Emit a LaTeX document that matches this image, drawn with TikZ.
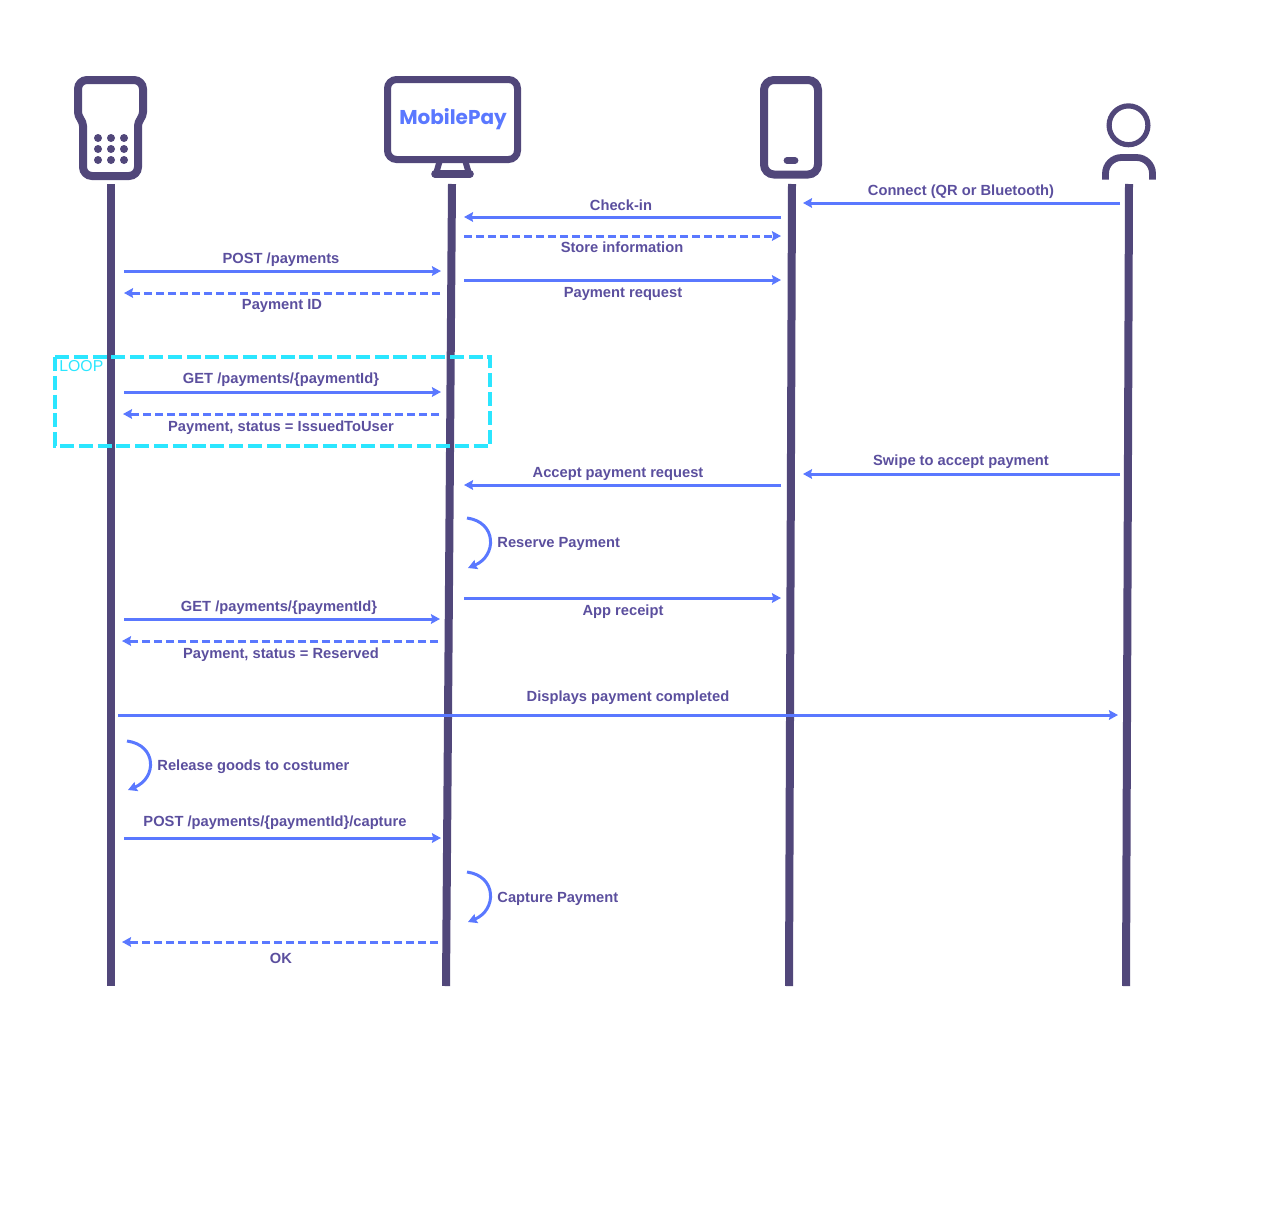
\documentclass[tikz,border=0pt]{standalone}
\usepackage{fontspec}
\setmainfont{Liberation Sans}
\newfontfamily\logofont{Poppins}
\usetikzlibrary{arrows.meta}
\definecolor{lifecol}{HTML}{51477A}
\definecolor{textcol}{HTML}{5B4F9E}
\definecolor{msgcol}{HTML}{5A78FF}
\definecolor{loopcol}{HTML}{2BE6FF}
\tikzset{
  msgline/.style={draw=msgcol, line width=1.5pt, -{Stealth[length=4.5pt,width=4.8pt,inset=0.6pt]}},
  msgdash/.style={msgline, dash pattern=on 4pt off 2pt},
  lifeline/.style={draw=lifecol, line width=4pt},
  icon/.style={draw=lifecol, line width=4pt, rounded corners=4.5pt},
  lbl/.style={text=textcol, font=\fontsize{7.35}{9}\selectfont\bfseries, inner sep=0pt, text height=5pt, text depth=0pt}
}
\begin{document}
\begin{tikzpicture}[x=0.5pt,y=-0.5pt]
        \useasboundingbox (0,0) rectangle (1280,1210);
        % lifelines
        \coordinate (termtop) at (111,184); \coordinate (termend) at (111,986);
        \coordinate (paytop) at (452,184); \coordinate (payend) at (446,986);
        \coordinate (phonetop) at (792,184); \coordinate (phoneend) at (789,986);
        \coordinate (usertop) at (1129,184); \coordinate (userend) at (1126,986);
        \draw[lifeline] (termtop) -- (termend); \draw[lifeline] (paytop) -- (payend);
        \draw[lifeline] (phonetop) -- (phoneend); \draw[lifeline] (usertop) -- (userend);
        % icons
        \draw[icon] (110,80) -- (143,80) [rounded corners=2pt] -- (143,116) -- (138,122) [rounded corners=4.5pt] -- (138,176) -- (83,176) [rounded corners=2pt] -- (83,122) -- (78,116) [rounded corners=4.5pt] -- (78,80) -- cycle;
        \foreach \xx in {98,111,124} \foreach \yy in {138,149,160} \fill[lifecol] (\xx,\yy) circle (2pt);
        \draw[icon, line width=3.5pt] (387.5,79.5) rectangle (517.5,159.5);
        \draw[lifecol, line width=3pt] (440,160) -- (436.5,172); \draw[lifecol, line width=3pt] (465,160) -- (468.5,172);
        \draw[lifecol, line width=3.8pt, line cap=round] (435,174) -- (470,174);
        \node[text=msgcol, font=\fontsize{10}{12}\logofont\bfseries, inner sep=0pt] (logo) at (453,119) {MobilePay};
        \draw[icon, rounded corners=5pt] (764,80) rectangle (818,174.5);
        \draw[lifecol, line width=3.4pt, line cap=round] (787,160.5) -- (795,160.5);
        \draw[lifecol, line width=2.6pt] (1128.5,125.3) circle (9.7pt);
        \draw[lifecol, line width=3.4pt, rounded corners=8pt] (1105.5,179.5) -- (1105.5,157.5) -- (1152.5,157.5) -- (1152.5,179.5);
        % loop box
        \coordinate (loopa) at (55,357); \coordinate (loopb) at (490,446);
        \draw[loopcol, line width=2pt, dash pattern=on 7pt off 2.4pt] (loopa) rectangle (loopb);
        \node[text=loopcol, font=\fontsize{7.9}{9}\selectfont, anchor=west, inner sep=0pt] (looplbl) at (59,366) {LOOP};
        % messages
        \coordinate (cona) at (1120,203); \coordinate (conb) at (803,203); \draw[msgline] (cona) -- (conb);
        \coordinate (chka) at (781,217); \coordinate (chkb) at (464,217); \draw[msgline] (chka) -- (chkb);
        \coordinate (stoa) at (464,236); \coordinate (stob) at (781,236); \draw[msgdash] (stoa) -- (stob);
        \coordinate (posa) at (124,271); \coordinate (posb) at (441,271); \draw[msgline] (posa) -- (posb);
        \coordinate (reqa) at (464,280); \coordinate (reqb) at (781,280); \draw[msgline] (reqa) -- (reqb);
        \coordinate (pida) at (440,293); \coordinate (pidb) at (124,293); \draw[msgdash] (pida) -- (pidb);
        \coordinate (geta) at (124,392); \coordinate (getb) at (441,392); \draw[msgline] (geta) -- (getb);
        \coordinate (issa) at (439,414); \coordinate (issb) at (123,414); \draw[msgdash] (issa) -- (issb);
        \coordinate (swia) at (1120,474); \coordinate (swib) at (803,474); \draw[msgline] (swia) -- (swib);
        \coordinate (acca) at (781,485); \coordinate (accb) at (464,485); \draw[msgline] (acca) -- (accb);
        \coordinate (appa) at (464,598); \coordinate (appb) at (781,598); \draw[msgline] (appa) -- (appb);
        \coordinate (gtba) at (124,619); \coordinate (gtbb) at (440,619); \draw[msgline] (gtba) -- (gtbb);
        \coordinate (resa) at (438,641); \coordinate (resb) at (122,641); \draw[msgdash] (resa) -- (resb);
        \coordinate (disa) at (118,715); \coordinate (disb) at (1118,715); \draw[msgline] (disa) -- (disb);
        \coordinate (capa) at (124,838); \coordinate (capb) at (441,838); \draw[msgline] (capa) -- (capb);
        \coordinate (oka) at (438,942); \coordinate (okb) at (122,942); \draw[msgdash] (oka) -- (okb);
        % self calls
        \coordinate (rsva) at (467,518); \coordinate (rsvb) at (468,568); \draw[msgline] (rsva) .. controls +(30,4) and +(29,-12) .. (rsvb);
        \coordinate (rela) at (127,741); \coordinate (relb) at (128,790); \draw[msgline] (rela) .. controls +(30,4) and +(29,-12) .. (relb);
        \coordinate (cpta) at (467,872); \coordinate (cptb) at (468,922); \draw[msgline] (cpta) .. controls +(30,4) and +(29,-12) .. (cptb);
        % labels
        \node[lbl] (conlbl) at (961,190) {Connect (QR or Bluetooth)};
        \node[lbl] (chklbl) at (621,205) {Check-in};
        \node[lbl] (stolbl) at (622,247) {Store information};
        \node[lbl] (poslbl) at (281,258) {POST /payments};
        \node[lbl] (reqlbl) at (623,292) {Payment request};
        \node[lbl] (pidlbl) at (282,304) {Payment ID};
        \node[lbl] (getlbl) at (281,378) {GET /payments/\{paymentId\}};
        \node[lbl] (isslbl) at (281,426) {Payment, status = IssuedToUser};
        \node[lbl] (swilbl) at (961,460) {Swipe to accept payment};
        \node[lbl] (acclbl) at (618,472) {Accept payment request};
        \node[lbl, anchor=west] (rsvlbl) at (497,542) {Reserve Payment};
        \node[lbl] (applbl) at (623,610) {App receipt};
        \node[lbl] (gtblbl) at (279,606) {GET /payments/\{paymentId\}};
        \node[lbl] (reslbl) at (281,653) {Payment, status = Reserved};
        \node[lbl] (dislbl) at (628,696) {Displays payment completed};
        \node[lbl, anchor=west] (rellbl) at (157,765) {Release goods to costumer};
        \node[lbl] (caplbl) at (275,821) {POST /payments/\{paymentId\}/capture};
        \node[lbl, anchor=west] (cptlbl) at (497,897) {Capture Payment};
        \node[lbl] (oklbl) at (281,958) {OK};
    \end{tikzpicture}
\end{document}
